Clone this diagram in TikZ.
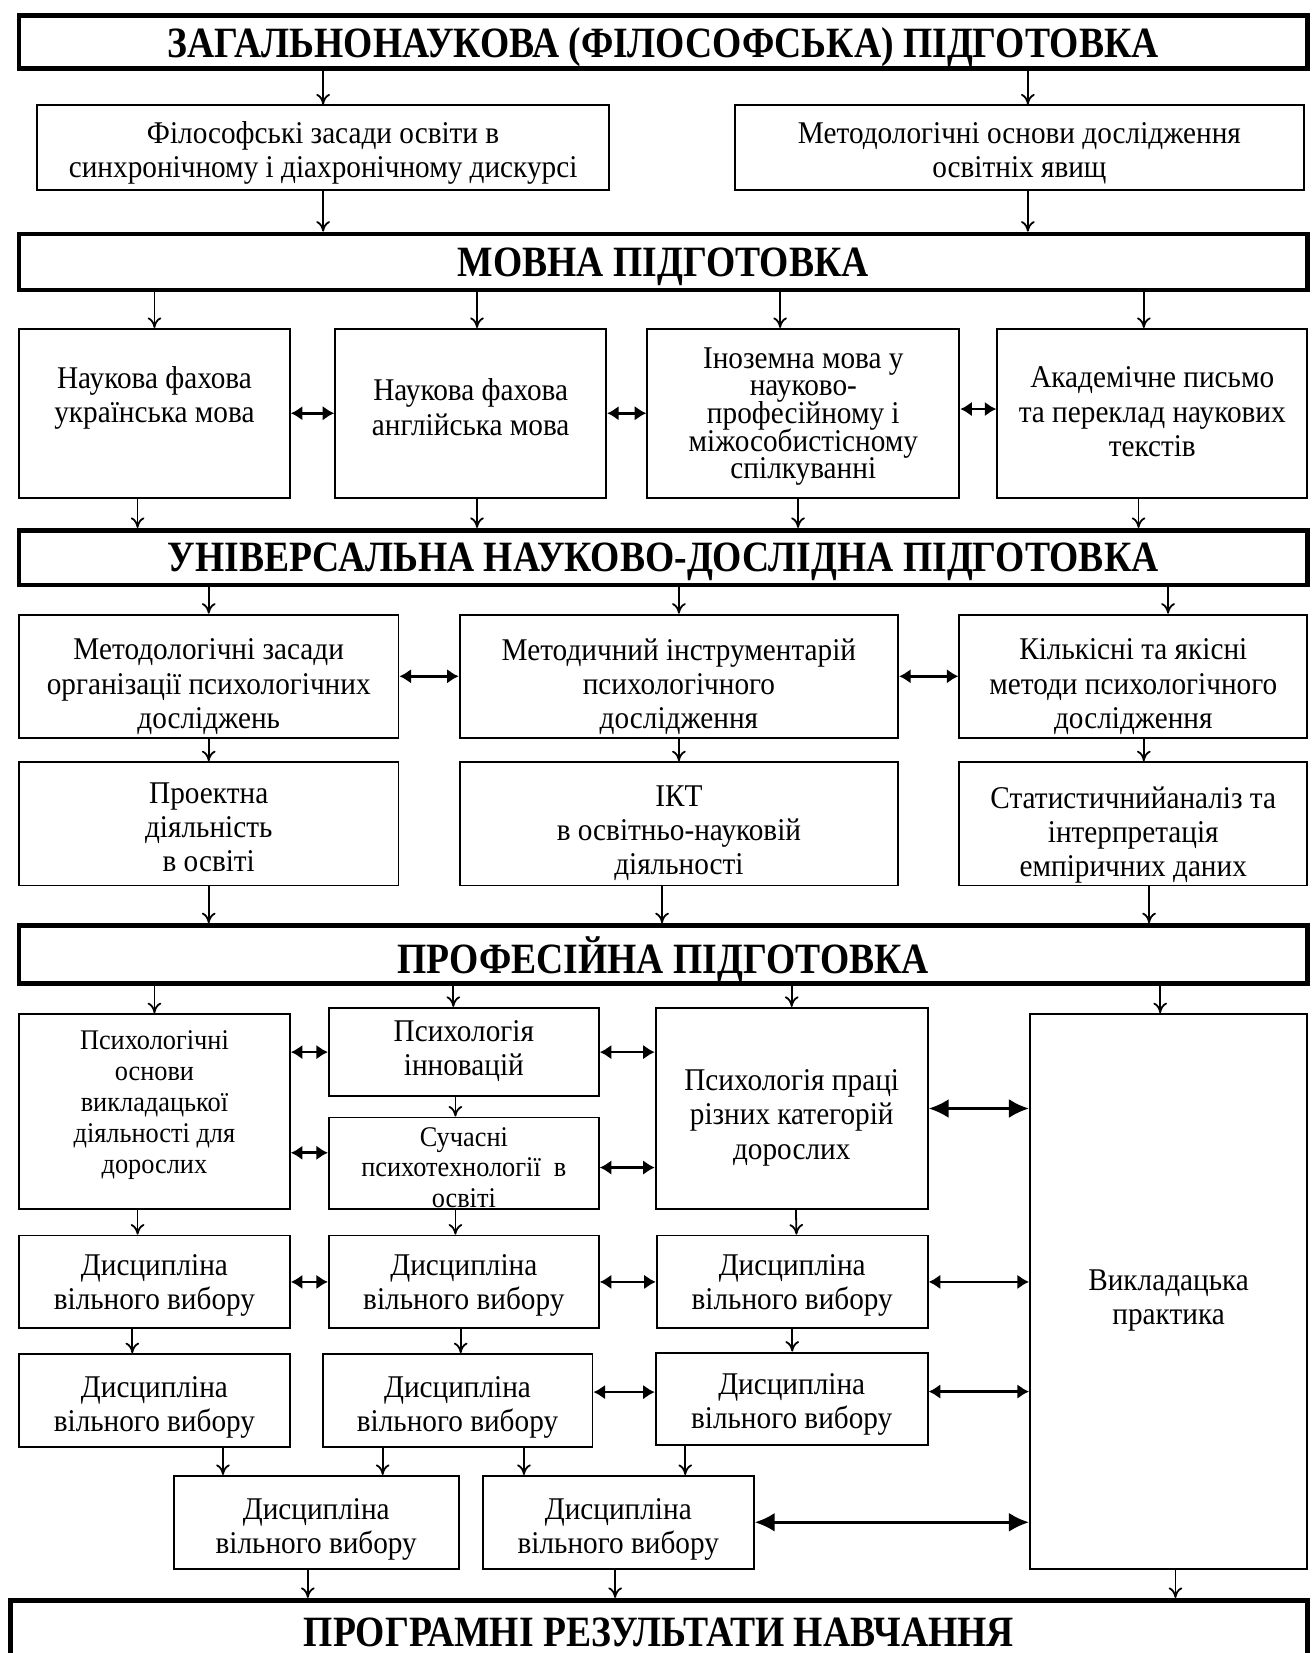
\documentclass[tikz,border=0pt]{standalone}
\usepackage{fontspec}
\setmainfont{Liberation Serif}[FakeStretch=0.925]
\newfontfamily\headfont{Liberation Serif}[FakeStretch=0.87]
\usetikzlibrary{arrows.meta}
\lineskiplimit=-50pt

\tikzset{
  wh/.style 2 args={minimum width=#1,minimum height=#2},
  blk/.style={draw,line width=1.8pt,inner sep=0pt},
  txt/.style={inner sep=0pt,align=center,text depth=0pt,
    font=\fontsize{30}{32.5}\selectfont},
  small/.style={font=\fontsize{27}{29.3}\selectfont},
  tight/.style={font=\fontsize{30}{26.25}\selectfont},
  head/.style={draw,line width=4.5pt,inner sep=0pt,align=center,text depth=0pt,
    font=\fontsize{41}{44}\selectfont\headfont\bfseries},
  down/.style={line width=1.7pt,-{To[length=10pt,width=13pt]}},
  both/.style={line width=2.6pt,{Latex[length=11pt,width=14pt]}-{Latex[length=11pt,width=14pt]}},
  bigboth/.style={line width=2.8pt,{Latex[length=19pt,width=18pt]}-{Latex[length=19pt,width=18pt]}}
}
% box with its text: [text style]{name}{x}{y}{width}{height}{text shift}{text}
\newcommand\bx[8][]{%
  \node[blk,wh={#5}{#6}] (#2) at (#3,#4) {};
  \node[txt,#1] (#2-t) at ([yshift=#7]#2.center) {#8};}

\begin{document}
\begin{tikzpicture}[x=1pt,y=-1pt]
  \useasboundingbox (0,0) rectangle (1245,1568);
  % general training
  \node[head,wh={1222}{50}] (zag) at (629,40) {ЗАГАЛЬНОНАУКОВА (ФІЛОСОФСЬКА) ПІДГОТОВКА};
  \bx{phil}{306.5}{140}{543}{80}{-2}{Філософські засади освіти в\\синхронічному і діахронічному дискурсі}
  \bx{meth}{967}{140}{540}{80}{-2}{Методологічні основи дослідження\\освітніх явищ}
  % language training
  \node[head,wh={1222}{53}] (mova) at (629,248.5) {МОВНА ПІДГОТОВКА};
  \bx{ukr}{146.5}{392}{257}{160}{17.5}{Наукова фахова\\українська мова}
  \bx{eng}{446.5}{392}{257}{160}{6}{Наукова фахова\\англійська мова}
  \bx[tight]{ino}{762}{392}{296}{160}{0}{Іноземна мова у\\науково-\\професійному і\\міжособистісному\\спілкуванні}
  \bx{akad}{1093}{392}{294}{160}{1.5}{Академічне письмо\\та переклад наукових\\текстів}
  % research training
  \node[head,wh={1222}{52}] (univ) at (629,529) {УНІВЕРСАЛЬНА НАУКОВО-ДОСЛІДНА ПІДГОТОВКА};
  \bx{metz}{198}{641.5}{360}{117}{-7}{Методологічні засади\\організації психологічних\\досліджень}
  \bx{instr}{644}{641.5}{416}{117}{-7}{Методичний інструментарій\\психологічного\\дослідження}
  \bx{kilk}{1075}{641.5}{330}{117}{-7}{Кількісні та якісні\\методи психологічного\\дослідження}
  \bx{proekt}{198}{781.5}{360}{117}{-3}{Проектна\\діяльність\\в освіті}
  \bx{ikt}{644}{781.5}{416}{117}{-6}{ІКТ\\в освітньо-науковій\\діяльності}
  \bx{stat}{1075}{781.5}{330}{117}{-7.5}{Статистичнийаналіз та\\інтерпретація\\емпіричних даних}
  % professional training
  \node[head,wh={1222}{55}] (prof) at (629,905.5) {ПРОФЕСІЙНА ПІДГОТОВКА};
  \bx[small]{osn}{146.5}{1054.5}{257}{185}{9}{Психологічні\\основи\\викладацької\\діяльності для\\дорослих}
  \bx{innov}{440}{998}{256}{84}{4}{Психологія\\інновацій}
  \bx[small]{such}{440}{1103.5}{256}{87}{-4}{Сучасні\\психотехнології\ \ в\\освіті}
  \bx{pratsi}{751}{1051.5}{258}{191}{-5.5}{Психологія праці\\різних категорій\\дорослих}
  \bx{prakt}{1108.5}{1225}{263}{526}{-5.5}{Викладацька\\практика}
  \foreach \n/\x/\y/\w/\s in {d1/146.5/1216/257/0,d2/440/1216/256/0,d3/751.5/1216/257/0,
      d4/146.5/1328.5/257/-3,d5/434/1328.5/256/-3,d6/751/1327/258/-2,
      d7/300/1444/270/-3.5,d8/586.5/1444/257/-3.5}
    {\bx{\n}{\x}{\y}{\w}{88}{\s}{Дисципліна\\вільного вибору}}
  % results
  \node[head,wh={1230}{82}] (res) at (625,1559) {};
  \node[txt,font=\fontsize{41}{44}\selectfont\headfont\bfseries] (res-t) at ([yshift=11]res.center) {ПРОГРАМНІ РЕЗУЛЬТАТИ НАВЧАННЯ};

  % arrows down
  \draw[down] (phil.north |- zag.south) -- (phil.north);
  \draw[down] ([xshift=8]meth.north |- zag.south) -- ([xshift=8]meth.north);
  \draw[down] (phil.south) -- (phil.south |- mova.north);
  \draw[down] ([xshift=8]meth.south) -- ([xshift=8]meth.south |- mova.north);
  \foreach \a/\s in {ukr/0,eng/6,ino/-22,akad/-8}
    \draw[down] ([xshift=\s]\a.north |- mova.south) -- ([xshift=\s]\a.north);
  \foreach \a/\s in {ukr/-16,eng/6,ino/-5,akad/-13}
    \draw[down] ([xshift=\s]\a.south) -- ([xshift=\s]\a.south |- univ.north);
  \foreach \a/\s in {metz/0,instr/0,kilk/33}
    \draw[down] ([xshift=\s]\a.north |- univ.south) -- ([xshift=\s]\a.north);
  \draw[down] (metz.south) -- (proekt.north);
  \draw[down] (instr.south) -- (ikt.north);
  \draw[down] ([xshift=10]kilk.south) -- ([xshift=10]stat.north);
  \foreach \a/\s in {proekt/0,ikt/-16,stat/15}
    \draw[down] ([xshift=\s]\a.south) -- ([xshift=\s]\a.south |- prof.north);
  \foreach \a/\s in {osn/0,innov/-10,pratsi/0,prakt/-8}
    \draw[down] ([xshift=\s]\a.north |- prof.south) -- ([xshift=\s]\a.north);
  \draw[down] ([xshift=-8]innov.south) -- ([xshift=-8]such.north);
  \draw[down] ([xshift=-16]osn.south) -- ([xshift=-16]d1.north);
  \draw[down] ([xshift=-8]such.south) -- ([xshift=-8]d2.north);
  \draw[down] ([xshift=4]pratsi.south) -- ([xshift=4]d3.north);
  \draw[down] ([xshift=-21]d1.south) -- ([xshift=-21]d1.south |- d4.north);
  \draw[down] ([xshift=-3]d2.south) -- ([xshift=-3]d2.south |- d5.north);
  \draw[down] (d3.south) -- (d3.south |- d6.north);
  \draw[down] ([xshift=65]d4.south) -- ([xshift=65]d4.south |- d7.north);
  \draw[down] ([xshift=-71]d5.south) -- ([xshift=-71]d5.south |- d7.north);
  \draw[down] ([xshift=63]d5.south) -- ([xshift=63]d5.south |- d8.north);
  \draw[down] ([xshift=-101]d6.south) -- ([xshift=-101]d6.south |- d8.north);
  \foreach \a/\s in {d7/-8,d8/-3,prakt/6.5}
    \draw[down] ([xshift=\s]\a.south) -- ([xshift=\s]\a.south |- res.north);

  % links both ways
  \draw[both] (ukr.east) -- (eng.west);
  \draw[both] (eng.east) -- (ino.west);
  \draw[both] ([yshift=4]ino.east) -- ([yshift=4]akad.west);
  \draw[both] (metz.east) -- (instr.west);
  \draw[both] (instr.east) -- (kilk.west);
  \draw[both] (innov.west -| osn.east) -- (innov.west);
  \draw[both] ([yshift=10]such.west -| osn.east) -- ([yshift=10]such.west);
  \draw[both] (innov.east) -- (innov.east -| pratsi.west);
  \draw[both] ([yshift=-4]such.east) -- ([yshift=-4]such.east -| pratsi.west);
  \draw[bigboth] (pratsi.east) -- (pratsi.east -| prakt.west);
  \draw[both] (d1.east) -- (d2.west);
  \draw[both] (d2.east) -- (d3.west);
  \draw[both] (d3.east) -- (d3.east -| prakt.west);
  \draw[both] ([yshift=8]d5.east) -- ([yshift=8]d5.east -| d6.west);
  \draw[both] ([yshift=7]d6.east) -- ([yshift=7]d6.east -| prakt.west);
  \draw[bigboth] (d8.east) -- (d8.east -| prakt.west);
\end{tikzpicture}
\end{document}
